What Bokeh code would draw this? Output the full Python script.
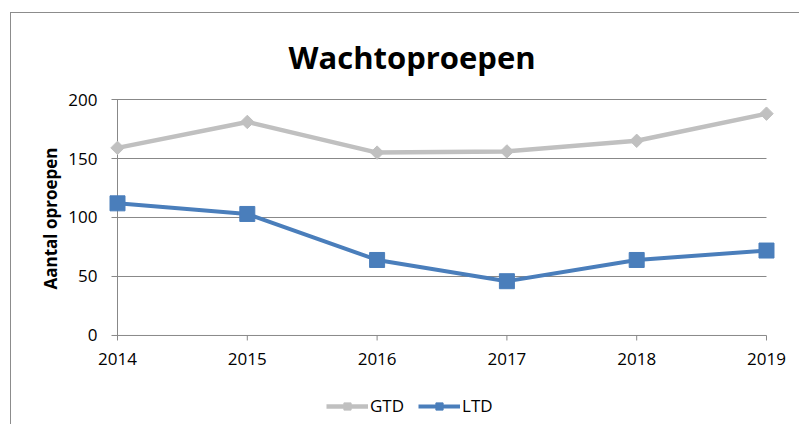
from bokeh.plotting import figure
from bokeh.layouts import column
from bokeh.models import Range1d, FixedTicker, Legend, LegendItem, Title
from bokeh.embed import file_html
from bokeh.resources import INLINE

years = [2014, 2015, 2016, 2017, 2018, 2019]
gtd = [159, 181, 155, 156, 165, 188]
ltd = [112, 103, 64, 46, 64, 72]
yticks = [0, 50, 100, 150, 200]
series_names = ["GTD", "LTD"]
title_text = "Wachtoproepen"
y_title = "Aantal oproepen"

FONT = "Open Sans"
GRID = "#888888"
GRAY = "#C0C0C0"
BLUE = "#4A7EBB"
BORDER = "1px solid #8c8c8c"

W, H = 789, 362
ML, MR, MT, MB = 94, 22, 82, 34
frame_w = W - ML - MR
frame_h = H - MT - MB

xpad = 0.0925
x0, x1 = years[0] - xpad, years[-1] + xpad
ppx = frame_w / (x1 - x0)          # px per year
y0, y1 = -5.1, 203.4
ppy = frame_h / (y1 - y0)          # px per unit

p = figure(width=W, height=H, output_backend="svg", toolbar_location=None,
           x_range=Range1d(x0, x1), y_range=Range1d(y0, y1),
           min_border_left=ML, min_border_right=MR, min_border_top=MT, min_border_bottom=MB,
           styles={"border-left": BORDER, "border-top": BORDER,
                   "margin-left": "10px", "margin-top": "12px"})
p.outline_line_color = None
p.xgrid.visible = False
p.ygrid.visible = False

# grid lines + y tick marks (extend left of the axis)
tick_y = 6 / ppx
p.segment(x0=[years[0] - tick_y] * len(yticks), x1=[years[-1]] * len(yticks),
          y0=yticks, y1=yticks, line_color=GRID, line_width=1)
# vertical axis line
p.segment(x0=[years[0]], x1=[years[0]], y0=[yticks[0]], y1=[yticks[-1]], line_color=GRID, line_width=1)
# x tick marks
tick_x = 5 / ppy
p.segment(x0=years, x1=years, y0=[0] * len(years), y1=[-tick_x] * len(years), line_color=GRID, line_width=1)

# series
p.line(years, gtd, line_color=GRAY, line_width=4.5)
p.scatter(years, gtd, marker="square", angle=0.785398, size=9.5, fill_color=GRAY, line_color=GRAY)
p.line(years, ltd, line_color=BLUE, line_width=4)
p.scatter(years, ltd, marker="square", size=15, fill_color=BLUE, line_color=BLUE)

# axes
for ax in (p.xaxis[0], p.yaxis[0]):
    ax.axis_line_color = None
    ax.major_tick_line_color = None
    ax.minor_tick_line_color = None
    ax.major_label_text_font = FONT
    ax.major_label_text_font_size = "17px"
    ax.major_label_text_color = "#000000"

p.xaxis.ticker = FixedTicker(ticks=years)
p.yaxis.ticker = FixedTicker(ticks=yticks)
p.xaxis.major_label_standoff = 5
p.yaxis.major_label_standoff = 2
p.yaxis.axis_label = y_title
p.yaxis.axis_label_text_font = FONT
p.yaxis.axis_label_text_font_style = "bold"
p.yaxis.axis_label_text_font_size = "17px"
p.yaxis.axis_label_text_color = "#000000"
p.yaxis.axis_label_standoff = 3

# title
p.title = Title(text=title_text, align="left", offset=183, text_font=FONT, text_font_style="bold",
                text_font_size="31px", text_color="#000000", standoff=36)

# legend strip below the chart (its keys are drawn from the same series, kept off-view)
LH = 50
lg = figure(width=W, height=LH, output_backend="svg", toolbar_location=None,
            x_range=Range1d(0, 1), y_range=Range1d(0, 1), x_axis_type=None, y_axis_type=None,
            min_border=0, styles={"border-left": BORDER, "margin-left": "10px"})
lg.outline_line_color = None
lg.xgrid.visible = False
lg.ygrid.visible = False
kg_line = lg.line(years, gtd, line_color=GRAY, line_width=4.5)
kg_mark = lg.scatter(years, gtd, marker="square", angle=0.785398, size=9.5, fill_color=GRAY, line_color=GRAY)
kl_line = lg.line(years, ltd, line_color=BLUE, line_width=4)
kl_mark = lg.scatter(years, ltd, marker="square", size=15, fill_color=BLUE, line_color=BLUE)

legend = Legend(items=[LegendItem(label=series_names[0], renderers=[kg_line, kg_mark]),
                       LegendItem(label=series_names[1], renderers=[kl_line, kl_mark])],
                orientation="horizontal", location=(221, 7),
                border_line_color=None, background_fill_alpha=0,
                glyph_width=42, glyph_height=18, label_height=18, label_standoff=2, spacing=14,
                padding=0, margin=0,
                label_text_font=FONT, label_text_font_size="17px", label_text_color="#000000")
lg.add_layout(legend)

layout = column(p, lg, spacing=0)
open("out.html", "w").write(file_html(layout, INLINE))
